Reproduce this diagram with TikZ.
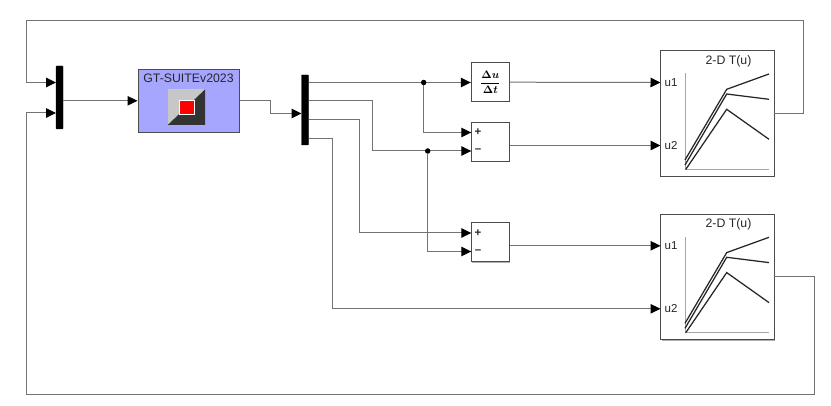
\documentclass[tikz,border=0pt]{standalone}
\usepackage{amsmath}
\usepackage{fontspec}
\setmainfont{Liberation Sans}
\usetikzlibrary{arrows.meta,shadows}
\definecolor{wire}{gray}{0.45}
\tikzset{
  x=1pt,y=-1pt,
  wire/.style={draw=wire,line width=1pt},
  sig/.style={wire,-{Triangle[length=10pt,width=9.5pt,color=black]}},
  block/.style={draw=black!70,line width=1pt,fill=white,inner sep=0pt,
    drop shadow={shadow xshift=1pt,shadow yshift=-1pt,fill=black!45,opacity=0.7}},
  muxbar/.style={fill=black,draw=black,line width=0.3pt,rounded corners=0.6pt,inner sep=0pt,minimum width=7pt},
  dot/.style={circle,fill=black,inner sep=0pt,minimum size=5.5pt},
  lbl/.style={inner sep=0pt,text=black!85,font=\fontsize{11.5}{13}\selectfont},
  title/.style={inner sep=0pt,text=black!85,font=\fontsize{12.3}{14}\selectfont},
  sign/.style={inner sep=0pt,text=black!85,font=\fontsize{11.5}{13}\selectfont\bfseries},
  curve/.style={draw=black!85,line width=1.25pt,line join=miter},
  axisline/.style={draw=black!35,line width=0.9pt}
}
\newcommand{\TwoD}[2]{%
  \node[block,minimum width=113.5pt,minimum height=125.5pt] (#1) at (717.3,{113.7+#2}) {};
  \node[title] (#1t) at (728.5,{61+#2}) {2-D T(u)};
  \node[lbl,anchor=west] (#1u1) at (664.5,{82.5+#2}) {u1};
  \node[lbl,anchor=west] (#1u2) at (664.5,{145.5+#2}) {u2};
  \begin{scope}[shift={(0,#2)}]
    \draw[axisline] (685,73.5) -- (685,169.5) -- (769,169.5);
    \draw[curve] (685,160) -- (726.7,89.3) -- (769,74);
    \draw[curve] (685,165) -- (726.7,94) -- (769,99.3);
    \draw[curve] (685.7,169.5) -- (726.7,109.3) -- (769,139.3);
  \end{scope}
}
\begin{document}
\begin{tikzpicture}
\useasboundingbox (0,0) rectangle (831,406);
% mux bars
\node[muxbar,minimum height=63pt] (mux1) at (59.5,97.5) {};
\node[muxbar,minimum height=70pt] (mux2) at (305,110) {};
% S-function block
\node[draw=black!70,line width=1pt,fill={rgb,255:red,166;green,166;blue,255},inner sep=0pt,
  minimum width=101pt,minimum height=63pt,
  drop shadow={shadow xshift=1.2pt,shadow yshift=-1.2pt,fill=black!55,opacity=0.8}] (gt) at (188.5,100.8) {};
\node[title] (gtt) at (188.5,78.3) {GT-SUITEv2023};
\fill[black!22] (167.7,89.5) rectangle (205,125);
\fill[black!80] (205,89.5) -- (205,125) -- (167.7,125) -- cycle;
\draw[white,line width=0.8pt,fill=red] (179.5,100) rectangle (194,114.7);
% math blocks
\node[block,minimum width=38pt,minimum height=38.5pt] (der) at (490.3,82.2) {};
\node[inner sep=0pt] (dert) at (490.3,82.2) {\fontsize{10.5}{12}\selectfont$\dfrac{\boldsymbol{\Delta u}}{\boldsymbol{\Delta t}}$};
\node[block,minimum width=38pt,minimum height=39pt] (s1) at (490.3,141.8) {};
\node[block,minimum width=38pt,minimum height=39pt] (s2) at (490.3,242.5) {};
\node[sign] (s1p) at (478,132.5) {+};
\node[sign] (s1m) at (478,151) {--};
\node[sign] (s2p) at (478,233) {+};
\node[sign] (s2m) at (478,251.5) {--};
% lookup blocks
\TwoD{ta}{0}
\TwoD{tb}{163.3}
% ports
\coordinate (m1a) at (56,82.5);
\coordinate (m1b) at (56,113);
\coordinate (m2in) at (301.5,113.5);
\coordinate (m2a) at (308.5,82.5);
\coordinate (m2b) at (308.5,101);
\coordinate (m2c) at (308.5,120);
\coordinate (m2d) at (308.5,138.5);
\coordinate (ta1) at (660.5,82.5);
\coordinate (ta2) at (660.5,145.5);
\coordinate (tb1) at (660.5,245.8);
\coordinate (tb2) at (660.5,308.8);
\coordinate (s1a) at (471.3,132.5);
\coordinate (s1b) at (471.3,151);
\coordinate (s2a) at (471.3,233);
\coordinate (s2b) at (471.3,251.5);
\coordinate (taout) at (774,113.5);
\coordinate (tbout) at (774,277);
\coordinate (j1c) at (423.7,82.5);
\coordinate (j2c) at (427.7,151);
% connectors
\draw[sig] (taout) -- (803.5,113.5) -- (803.5,20.5) -- (26,20.5) -- (26,82.5) -- (m1a);
\draw[sig] (tbout) -- (814,277) -- (814,395) -- (26,395) -- (26,113) -- (m1b);
\draw[sig] (mux1.east |- gt.west) -- (gt.west);
\draw[sig] (gt.east) -- (270,100.8) -- (270,113.5) -- (m2in);
\draw[sig] (m2a) -- (der.west |- m2a);
\node[dot] (j1) at (j1c) {};
\draw[sig] (j1) |- (s1a);
\draw[sig] (m2b) -- (372,101) -- (372,151) -- (s1b);
\node[dot] (j2) at (j2c) {};
\draw[sig] (j2) |- (s2b);
\draw[sig] (m2c) -- (359,120) -- (359,233) -- (s2a);
\draw[sig] (m2d) -- (332,138.5) -- (332,308.8) -- (tb2);
\draw[sig] (der.east) -- (ta1);
\draw[sig] (s1.east |- ta2) -- (ta2);
\draw[sig] (s2.east |- tb1) -- (tb1);
\end{tikzpicture}
\end{document}
